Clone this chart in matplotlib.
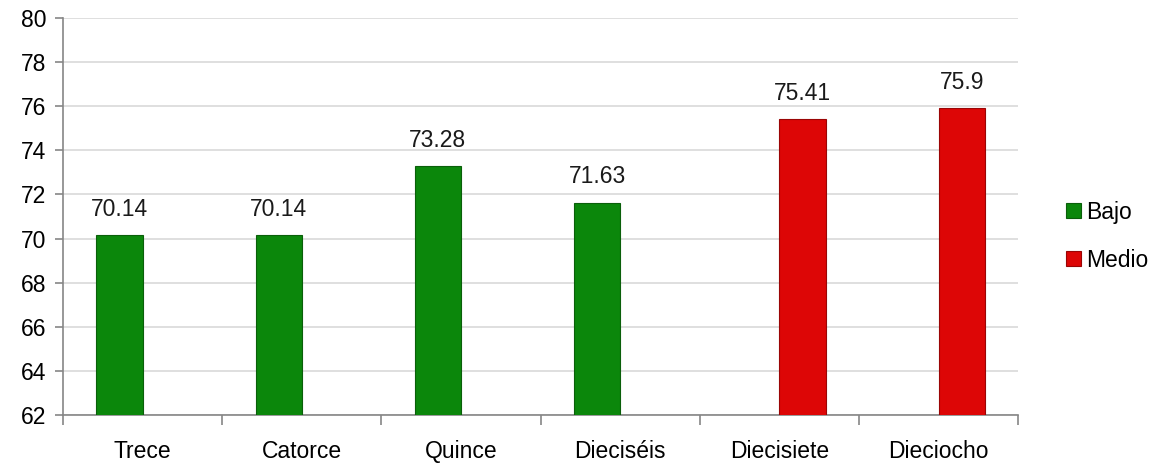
import numpy as np
import matplotlib
matplotlib.use("Agg")
import matplotlib.pyplot as plt

plt.rcParams["font.family"] = ["Liberation Sans", "DejaVu Sans"]

# Data
categorias = ["Trece", "Catorce", "Quince", "Dieciséis", "Diecisiete", "Dieciocho"]
bajo = [70.14, 70.14, 73.28, 71.63, np.nan, np.nan]
medio = [np.nan, np.nan, np.nan, np.nan, 75.41, 75.9]
y_ticks = [62, 64, 66, 68, 70, 72, 74, 76, 78, 80]

fig = plt.figure(figsize=(11.65, 4.63), dpi=100)
ax = fig.add_axes([0.054, 0.1037, 0.82, 0.8574])

x = np.arange(len(categorias))
w = 0.29
ax.bar(x - w / 2, bajo, w, color="#0b870b", edgecolor="#0a5f0a",
       linewidth=0.8, label="Bajo", zorder=3)
ax.bar(x + w / 2, medio, w, color="#dd0606", edgecolor="#9a0505",
       linewidth=0.8, label="Medio", zorder=3)

# Value labels
for xs, vals in [(x - w / 2, bajo), (x + w / 2, medio)]:
    for xi, v in zip(xs, vals):
        if np.isnan(v):
            continue
        ax.annotate(f"{v:g}", (xi, v), xytext=(0, 14), textcoords="offset points",
                    ha="center", va="baseline", fontsize=16.5, color="#1a1a1a")

ax.set_ylim(62, 80)
ax.set_xlim(-0.5, len(categorias) - 0.5)
ax.set_yticks(y_ticks)
ax.grid(axis="y", color="#d9d9d9", linewidth=1.2, zorder=0)

# Ticks at category boundaries, labels at centres
ax.set_xticks(np.arange(-0.5, len(categorias)), labels=[""] * (len(categorias) + 1))
ax.set_xticks(x, labels=categorias, minor=True)
ax.tick_params(axis="x", which="major", length=7, color="#868686", width=1.2)
ax.tick_params(axis="x", which="minor", length=0, pad=18, labelsize=16.5)
ax.tick_params(axis="y", length=6, color="#868686", width=1.2, labelsize=16.5, pad=6)

for s in ["top", "right"]:
    ax.spines[s].set_visible(False)
for s in ["left", "bottom"]:
    ax.spines[s].set_color("#868686")
    ax.spines[s].set_linewidth(1.2)

ax.legend(loc="center left", bbox_to_anchor=(0.897, 0.49), bbox_transform=fig.transFigure,
          frameon=False, fontsize=16.5, handlelength=0.65, handleheight=0.65,
          handletextpad=0.25, labelspacing=1.1)

fig.savefig("out.png", dpi=100)
